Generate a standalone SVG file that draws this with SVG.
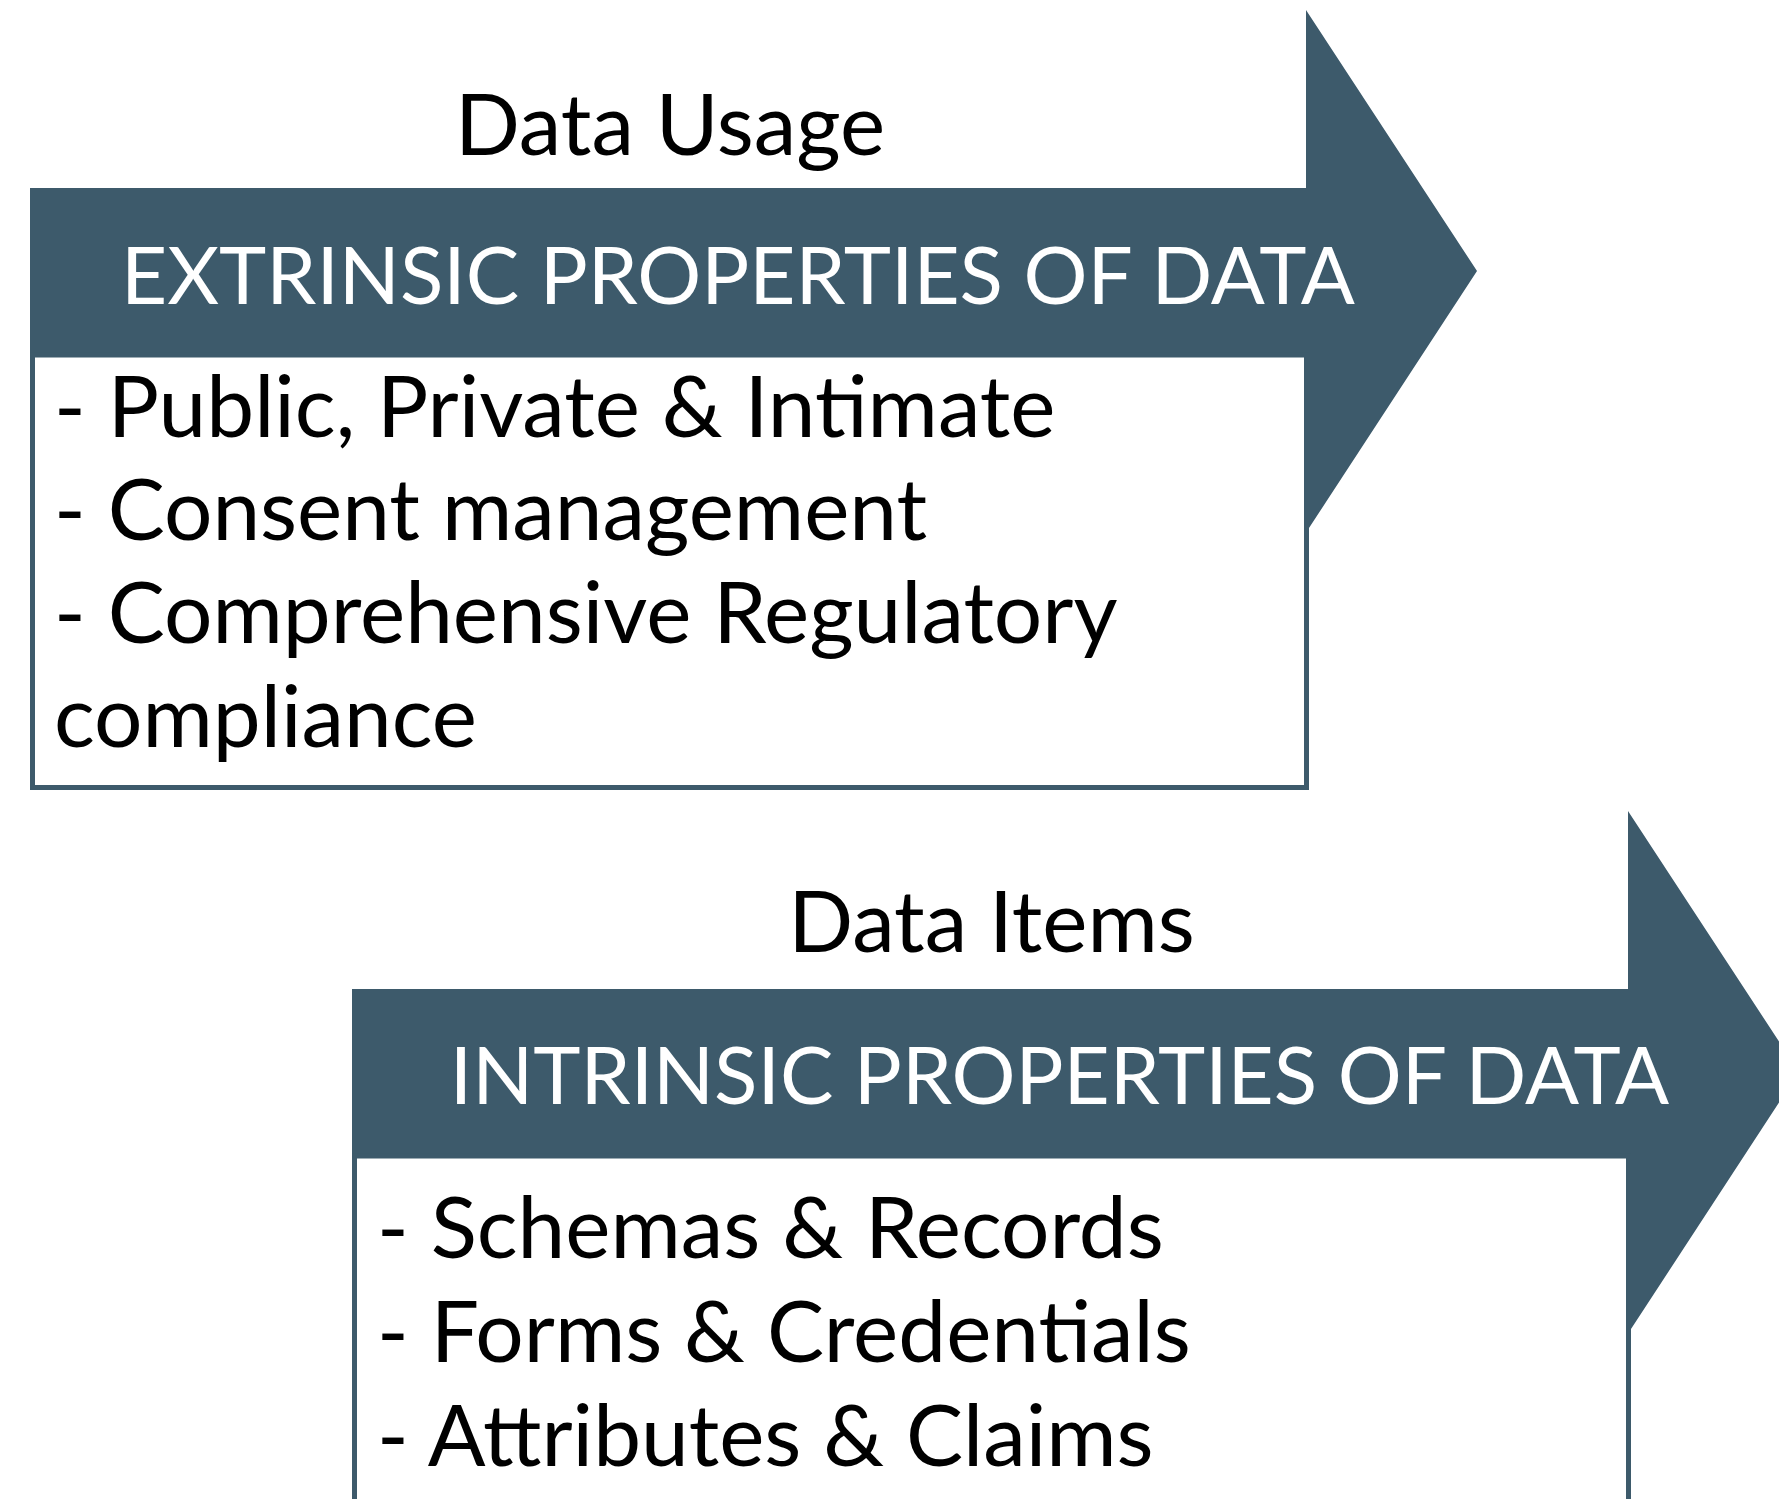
<svg xmlns="http://www.w3.org/2000/svg" width="1779" height="1499" viewBox="0 0 1779 1499">
<style>
.arrow{fill:#3d5a6b}
.box{fill:#ffffff;stroke:#3d5a6b;stroke-width:5}
.title{font-family:Lato,"Liberation Sans",sans-serif;font-size:85.5px;fill:#000000;text-anchor:middle}
.head{font-family:Lato,"Liberation Sans",sans-serif;font-size:80px;fill:#ffffff;text-anchor:middle}
.body{font-family:Lato,"Liberation Sans",sans-serif;font-size:85.5px;fill:#000000}
</style>
<rect width="1779" height="1499" fill="#ffffff"/>
<g id="extrinsic">
<path class="arrow" d="M30,188 H1306 V10 L1477,271 L1309,528 H1306 V355 H30 Z"/>
<rect class="box" x="32.5" y="355" width="1274" height="432.5"/>
<text class="title" x="670" y="155">Data Usage</text>
<text class="head" x="738" y="304">EXTRINSIC PROPERTIES OF DATA</text>
<text class="body" x="54" y="437">- Public, Private &amp; Intimate</text>
<text class="body" x="54" y="540">- Consent management</text>
<text class="body" x="54" y="643">- Comprehensive Regulatory</text>
<text class="body" x="54" y="747">compliance</text>
</g>
<g id="intrinsic">
<path class="arrow" d="M352,989 H1628 V811 L1799,1072 L1631,1329 H1628 V1156 H352 Z"/>
<rect class="box" x="354.5" y="1156" width="1274" height="360"/>
<text class="title" x="991.5" y="952">Data Items</text>
<text class="head" x="1059.5" y="1104">INTRINSIC PROPERTIES OF DATA</text>
<text class="body" x="377" y="1258">- Schemas &amp; Records</text>
<text class="body" x="377" y="1362">- Forms &amp; Credentials</text>
<text class="body" x="377" y="1466">- Attributes &amp; Claims</text>
</g>
<g id="connectors"></g>
</svg>
